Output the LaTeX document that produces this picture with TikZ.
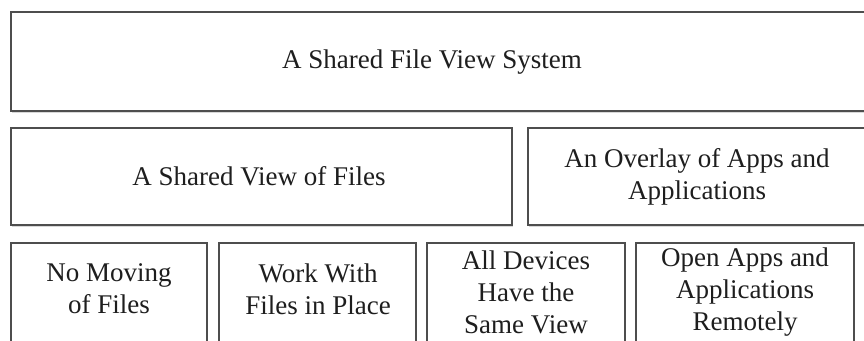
\documentclass[tikz,border=0pt]{standalone}
\usepackage{fontspec}
\setmainfont{Liberation Serif}
\usetikzlibrary{shadows}
\definecolor{edge}{RGB}{78,78,78}
\definecolor{ink}{RGB}{30,30,30}
\tikzset{
  panel/.style={draw=edge, line width=1.8pt, fill=white, inner sep=0pt,
    drop shadow={shadow xshift=0.6pt, shadow yshift=-2.2pt, opacity=0.25, fill=black!60}},
  caption/.style={text=ink, font=\fontsize{27}{32}\selectfont, align=center, inner sep=0pt},
}
\begin{document}
\begin{tikzpicture}[x=1pt, y=-1pt]
  \useasboundingbox (0,0) rectangle (864,340);
  \fill[white] (0,0) rectangle (864,340);

  % top layer
  \node[panel, minimum width=857pt, minimum height=99pt] (sys) at (439.5,61.5) {};
  % middle layer
  \node[panel, minimum width=501pt, minimum height=97pt] (view) at (261.5,176.5) {};
  \node[panel, minimum width=340pt, minimum height=97pt] (overlay) at (698,176.5) {};
  % bottom layer
  \node[panel, minimum width=196pt, minimum height=107pt] (nomove) at (109,296.5) {};
  \node[panel, minimum width=197pt, minimum height=107pt] (inplace) at (317.5,296.5) {};
  \node[panel, minimum width=198pt, minimum height=107pt] (sameview) at (526,296.5) {};
  \node[panel, minimum width=218pt, minimum height=107pt] (remote) at (745,296.5) {};

  % captions
  \node[caption] (sysT) at (432,62) {A Shared File View System};
  \node[caption] (viewT) at (259,176) {A Shared View of Files};
  \node[caption] (overlayT) at (697,177) {An Overlay of Apps and\\Applications};
  \node[caption] (nomoveT) at (109,289) {No Moving\\of Files};
  \node[caption] (inplaceT) at (318,289) {Work With\\Files in Place};
  \node[caption] (sameviewT) at (526,292) {All Devices\\Have the\\Same View};
  \node[caption] (remoteT) at (745,292) {Open Apps and\\Applications\\Remotely};
\end{tikzpicture}
\end{document}
